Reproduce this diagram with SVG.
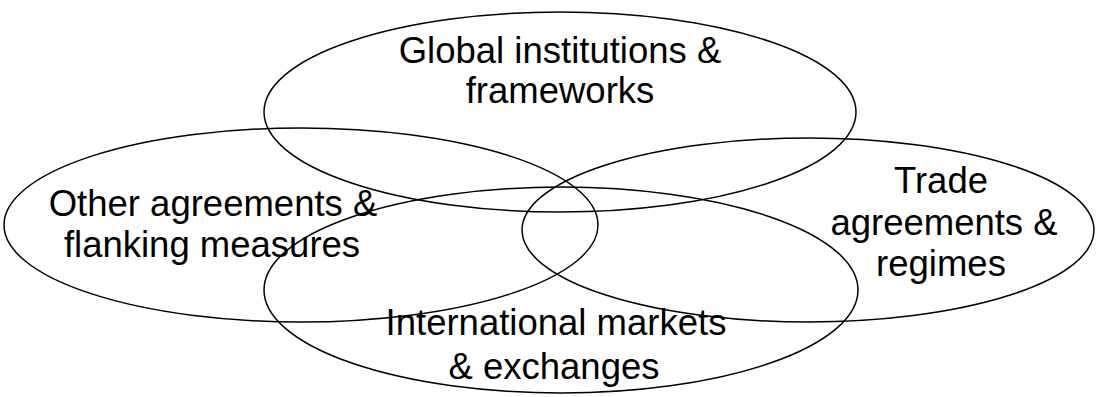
<svg xmlns="http://www.w3.org/2000/svg" width="1096" height="397" viewBox="0 0 1096 397">
<style>
.e{fill:none;stroke:#000;stroke-width:1.5}
.t{font-family:"Liberation Sans",Arial,sans-serif;font-size:36.5px;fill:#000;text-anchor:middle}
</style>
<rect width="1096" height="397" fill="#fff"/>
<g id="connectors"></g>
<g id="global"><ellipse class="e" cx="560" cy="112" rx="296" ry="100"/><text class="t" x="560" y="63">Global institutions &amp;</text><text class="t" x="560" y="103">frameworks</text></g>
<g id="other"><ellipse class="e" cx="301" cy="225" rx="297" ry="97"/><text class="t" x="213" y="216">Other agreements &amp;</text><text class="t" x="212" y="257">flanking measures</text></g>
<g id="trade"><ellipse class="e" cx="808" cy="230" rx="286" ry="92"/><text class="t" x="941" y="193">Trade</text><text class="t" x="944" y="235">agreements &amp;</text><text class="t" x="941" y="276">regimes</text></g>
<g id="markets"><ellipse class="e" cx="561" cy="290" rx="297" ry="103"/><text class="t" x="556" y="335">International markets</text><text class="t" x="554" y="379">&amp; exchanges</text></g>
</svg>
